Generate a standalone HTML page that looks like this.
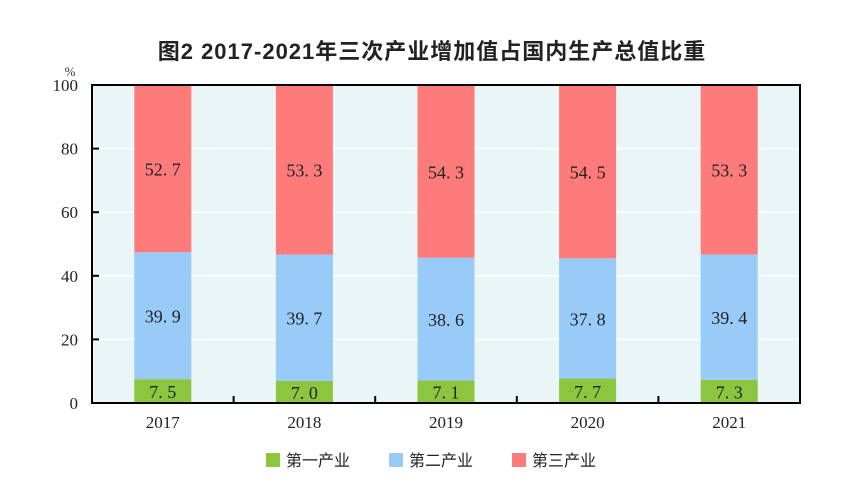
<!DOCTYPE html>
<html><head><meta charset="utf-8"><style>
body{margin:0;background:#fff;width:852px;height:498px;overflow:hidden}
text{font-family:"Liberation Serif","Noto Serif CJK SC",serif}
</style></head><body>
<svg id="c" width="852" height="498">
<text x="432" y="59" text-anchor="middle" font-size="22" font-weight="bold" letter-spacing="1" style="font-family:'Liberation Sans','Noto Sans CJK SC',sans-serif" fill="#222">图2 2017-2021年三次产业增加值占国内生产总值比重</text>
<text x="70" y="76" text-anchor="middle" font-size="13" fill="#333">%</text>
</svg>
<script>
const categories=["2017","2018","2019","2020","2021"];
const primary=[7.5,7.0,7.1,7.7,7.3];
const secondary=[39.9,39.7,38.6,37.8,39.4];
const tertiary=[52.7,53.3,54.3,54.5,53.3];
const yTicks=[0,20,40,60,80,100];
const seriesNames=["第一产业","第二产业","第三产业"];
const colors=["#8cc63f","#99cbf9","#fd7b7b"];
const svg=document.getElementById('c');const NS="http://www.w3.org/2000/svg";
const L=92,R=800,T=85,B=403;
const y=v=>B-(v/100)*(B-T);
const bw=(R-L)/categories.length;
const xc=i=>L+bw*(i+0.5);
function mk(t,a,p){const e=document.createElementNS(NS,t);for(const k in a)e.setAttribute(k,a[k]);(p||svg).appendChild(e);return e;}
let bg=mk('rect',{x:L,y:T,width:R-L,height:B-T,fill:'#eaf5f8'});


yTicks.forEach(v=>{
 if(v>0&&v<100){let g=mk('line',{x1:L,x2:R,y1:y(v),y2:y(v),stroke:'#fff','stroke-width':1.5});
 
 }
 let tk=mk('line',{x1:L,x2:L+7,y1:y(v),y2:y(v),stroke:'#000','stroke-width':2});
 
 
 let t=mk('text',{x:L-14,y:y(v)+6,'text-anchor':'end','font-size':17,fill:'#222'});t.textContent=v;
 
 
});
const series=[primary,secondary,tertiary];
categories.forEach((c,i)=>{
 let base=0;
 series.forEach((s,k)=>{
  const v=s[i];let top=k==2?100:base+v;
  let r=mk('rect',{x:xc(i)-28.5,y:y(top),width:57,height:y(base)-y(top),fill:colors[k]});
  
  
  let t=mk('text',{x:xc(i),y:(y(base)+y(top))/2+7,'text-anchor':'middle','font-size':18,fill:'#222'});
  t.textContent=v.toFixed(1).replace('.','. ');
  
  
  base=top;
 });
 let xl=mk('text',{x:xc(i),y:B+25,'text-anchor':'middle','font-size':17,fill:'#222'});xl.textContent=c;
 
 
 if(i>0){let tk=mk('line',{x1:L+bw*i,x2:L+bw*i,y1:B,y2:B-7,stroke:'#000','stroke-width':2});
 
 }
});
let ax=mk('path',{d:`M${L},${T}H${R}V${B}H${L}Z`,fill:'none',stroke:'#000','stroke-width':2});


const lx=[266,389,512];
seriesNames.forEach((n,k)=>{
 let g=mk('g',{});
 
 
 mk('rect',{x:lx[k],y:453,width:14,height:14,fill:colors[k]},g);
 let t=mk('text',{x:lx[k]+20,y:466,'font-size':16,fill:'#222'},g);t.textContent=n;
 t.style.fontFamily="'Liberation Sans','Noto Sans CJK SC',sans-serif";
});
</script>
</body></html>
